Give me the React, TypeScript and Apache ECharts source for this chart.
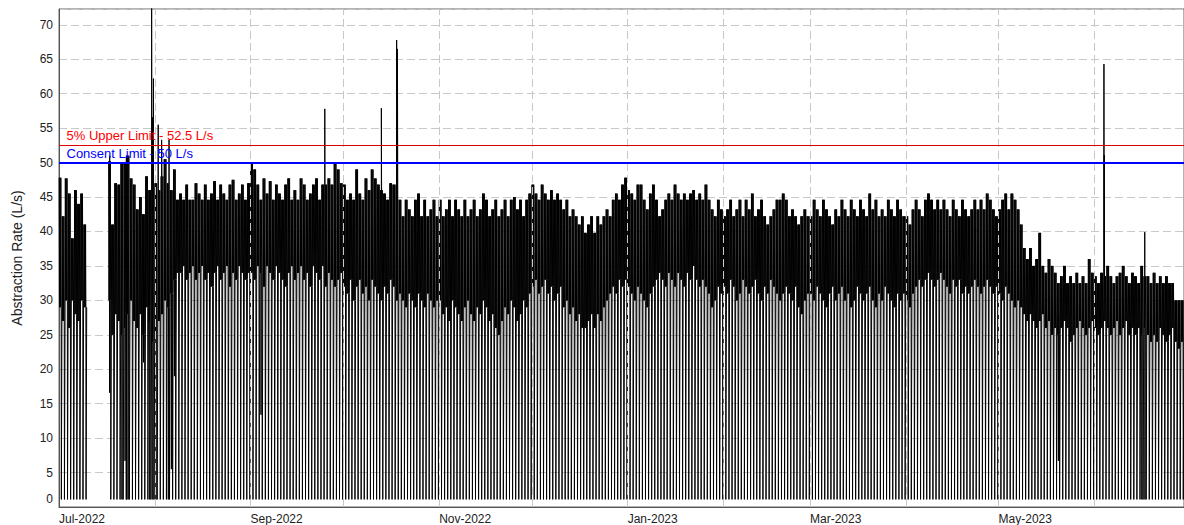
import React, { useEffect, useRef } from 'react';
import * as echarts from 'echarts';

const FONT = '"Liberation Sans", Arial, Helvetica, sans-serif';

// Day index 0 = 1 Jul 2022. Daily peak (hi) and lower edge of the running band (lo), in L/s.
const hiJul = [47.8, 42.2, 47.7, 45.5, 39.0, 46.0, 44.0, 45.5, 41.0, null, null, null, null, null, null, null, 50.2, 41.0, 47.0, 46.8, 50.0, 49.8, 51.0, 47.7, 46.8, 43.2, 45.0, 42.5, 48.0, 46.0, 46.0];
const loJul = [29, 27, 30, 26, 30, 28, 27, 30, 29, null, null, null, null, null, null, null, 30, 25, 28, 27, 25, 26, 28, 30, 27, 26, 28, 25, 29, 27, 24];
const hiAug = [47.0, 46.0, 48.0, 50.5, 47.0, 46.0, 49.0, 44.6, 45.5, 44.6, 46.8, 44.6, 44.6, 47.0, 45.5, 44.6, 46.8, 44.6, 45.5, 47.3, 44.6, 46.8, 45.5, 44.6, 46.8, 47.5, 44.6, 45.5, 46.8, 44.6, 47.0];
const loAug = [25, 27, 28, 30, 29, 31, 33, 34, 34, 35, 33, 34, 35, 33, 34, 35, 33, 34, 32, 34, 35, 33, 34, 35, 32, 34, 33, 35, 34, 33, 34];
const hiSep = [50.0, 49.0, 46.8, 44.6, 47.7, 45.5, 47.3, 44.6, 46.8, 45.5, 44.6, 46.8, 47.7, 44.6, 46.0, 44.6, 47.7, 46.8, 44.6, 45.5, 46.8, 47.7, 44.6, 46.8, 46.8, 47.7, 46.8, 50.0, 49.0, 47.0];
const loSep = [34, 33, 35, 34, 32, 35, 34, 33, 35, 34, 33, 32, 34, 35, 33, 34, 35, 33, 34, 32, 35, 34, 33, 35, 32, 34, 33, 32, 33, 34];
const hiOct = [46.8, 44.6, 45.5, 44.6, 49.0, 45.5, 44.6, 47.7, 46.0, 49.0, 47.7, 46.8, 46.0, 45.5, 44.6, 47.0, 46.8, 46.8, 44.6, 42.2, 44.6, 43.2, 42.2, 44.6, 45.5, 42.2, 44.6, 42.2, 43.2, 44.6, 42.2];
const loOct = [32, 31, 33, 30, 32, 33, 31, 32, 30, 33, 32, 31, 30, 32, 31, 33, 32, 30, 31, 30, 29, 31, 30, 29, 31, 30, 29, 31, 30, 29, 30];
const hiNov = [44.6, 42.2, 43.2, 44.6, 42.2, 44.6, 43.2, 42.2, 44.6, 42.2, 43.2, 44.6, 42.2, 43.2, 45.5, 44.6, 42.2, 43.2, 44.6, 42.2, 43.2, 44.6, 42.2, 44.6, 45.0, 43.2, 44.6, 42.2, 44.6, 45.5];
const loNov = [30, 28, 29, 27, 30, 29, 28, 27, 29, 30, 28, 27, 29, 28, 30, 29, 27, 28, 26, 25, 27, 29, 28, 30, 29, 27, 28, 30, 29, 31];
const hiDec = [46.8, 45.5, 44.6, 46.8, 45.5, 44.6, 46.0, 44.6, 45.5, 44.6, 43.2, 44.6, 42.2, 43.2, 42.2, 41.0, 42.2, 39.8, 41.0, 42.2, 39.8, 42.2, 41.0, 42.2, 43.2, 42.2, 44.6, 45.5, 44.6, 46.8, 47.8];
const loDec = [32, 33, 31, 32, 33, 31, 32, 30, 31, 32, 29, 30, 28, 29, 27, 28, 26, 26, 27, 28, 26, 28, 27, 29, 30, 31, 32, 31, 33, 32, 33];
const hiJan = [46.0, 45.5, 44.6, 46.8, 46.8, 44.6, 43.2, 45.5, 46.8, 44.6, 42.2, 43.2, 44.6, 45.5, 44.6, 46.8, 45.5, 44.6, 45.5, 44.6, 45.5, 46.0, 44.6, 45.5, 44.6, 46.8, 44.6, 43.2, 42.2, 44.6, 43.2];
const loJan = [32, 31, 30, 32, 31, 30, 29, 31, 32, 33, 34, 33, 32, 34, 33, 32, 34, 33, 32, 34, 33, 35, 33, 32, 33, 32, 31, 29, 30, 32, 31];
const hiFeb = [42.2, 43.2, 44.6, 42.2, 43.2, 44.6, 42.2, 44.6, 43.2, 45.5, 42.2, 43.2, 44.6, 42.2, 41.0, 42.2, 43.2, 44.6, 44.6, 45.5, 44.6, 42.2, 43.2, 42.2, 41.0, 42.2, 43.2, 42.2];
const loFeb = [32, 31, 33, 32, 30, 31, 33, 32, 31, 32, 33, 31, 30, 32, 31, 33, 32, 31, 30, 31, 32, 31, 30, 32, 29, 28, 30, 31];
const hiMar = [42.2, 44.6, 43.2, 42.2, 44.6, 43.2, 42.2, 41.0, 43.2, 42.2, 44.6, 43.2, 42.2, 44.6, 43.2, 42.2, 44.6, 43.2, 42.2, 45.5, 43.2, 44.6, 42.2, 43.2, 42.2, 44.6, 43.2, 42.2, 44.6, 43.2, 42.2];
const loMar = [31, 30, 32, 31, 30, 29, 31, 32, 30, 31, 32, 30, 31, 29, 30, 32, 31, 30, 31, 32, 30, 29, 31, 30, 32, 31, 30, 29, 31, 30, 31];
const hiApr = [42.2, 41.0, 43.2, 44.6, 43.2, 42.2, 44.6, 45.5, 44.6, 43.2, 44.6, 43.2, 44.6, 43.2, 42.2, 44.6, 43.2, 42.2, 44.6, 43.2, 42.2, 43.2, 44.6, 43.2, 44.6, 43.2, 45.5, 44.6, 43.2, 42.2];
const loApr = [30, 29, 31, 32, 33, 32, 33, 34, 33, 32, 33, 34, 33, 32, 31, 33, 32, 33, 31, 32, 31, 32, 33, 32, 31, 32, 33, 32, 31, 32];
const hiMay = [43.2, 44.6, 45.5, 43.2, 45.5, 44.6, 43.2, 41.0, 37.6, 36.0, 37.6, 35.0, 36.0, 39.8, 35.0, 34.0, 36.0, 35.0, 34.0, 32.5, 33.5, 35.0, 32.5, 33.5, 32.5, 34.0, 32.5, 33.5, 32.5, 36.0, 34.0];
const loMay = [31, 30, 32, 31, 30, 29, 30, 29, 28, 27, 28, 27, 26, 27, 28, 26, 27, 25, 26, 25, 26, 27, 26, 24, 25, 26, 27, 26, 25, 26, 27];
const hiJun = [33.5, 32.5, 34.0, 33.5, 35.0, 33.5, 32.5, 33.5, 34.0, 35.0, 33.5, 32.5, 34.0, 33.5, 32.5, 35.0, 33.5, 33.5, 32.5, 34.0, 32.5, 33.5, 32.5, 33.5, 32.5, 32.5, 30.0, 30.0, 30.0, 30.0];
const loJun = [26, 25, 26, 27, 26, 25, 26, 27, 25, 26, 27, 25, 26, 25, 26, 25, 26, 25, 24, 25, 24, 26, 25, 24, 25, 26, 24, 23, 24, 23];

// Short single readings above the daily band: [day (fractional), L/s]
const spikes = [[16.4, 51.0], [21.8, 51.0], [29.97, 74.0], [30.3, 56.6], [30.55, 62.2], [32.1, 55.5], [33.2, 53.3], [35.6, 53.3], [86.0, 57.8], [104.3, 57.9], [109.25, 67.8], [109.5, 66.5], [338.1, 64.3], [338.2, 51.1], [351.3, 39.9]];

// Pump-off reading each day, and extra drops [day, value]
const offRate = 1.1;
const extraDips = [[16, 16.6], [20, 1.1], [21, 6.7], [22, 1.1], [27, 21], [29, 1.1], [30, 1.1], [31, 1.1], [35, 1.1], [36, 5.5], [37, 19], [65, 13.4], [323, 6.7], [350, 1.1], [351, 1.1]];

// Axis
const monthStartDays = [31, 62, 92, 123, 153, 184, 215, 243, 274, 304, 335];
const labelDays = [0, 62, 123, 184, 243, 304];
const labelTexts = ['Jul-2022', 'Sep-2022', 'Nov-2022', 'Jan-2023', 'Mar-2023', 'May-2023'];

const consentLimit = 50;
const upperLimit = 52.5;

const hiValues = [...hiJul, ...hiAug, ...hiSep, ...hiOct, ...hiNov, ...hiDec, ...hiJan, ...hiFeb, ...hiMar, ...hiApr, ...hiMay, ...hiJun];
const loValues = [...loJul, ...loAug, ...loSep, ...loOct, ...loNov, ...loDec, ...loJan, ...loFeb, ...loMar, ...loApr, ...loMay, ...loJun];

function buildPoints() {
  const pts: any[] = [];
  for (let d = 0; d < hiValues.length; d++) {
    const hi = hiValues[d];
    const lo = loValues[d];
    if (hi == null || lo == null) {
      pts.push([d + 0.5, '-']);
      continue;
    }
    const dayPts: number[][] = [];
    dayPts.push([d + 0.05, hi], [d + 0.18, lo], [d + 0.3, hi]);
    extraDips.filter((e) => e[0] === d).forEach((e) => {
      dayPts.push([d + 0.36, e[1]], [d + 0.4, e[1]], [d + 0.44, lo]);
    });
    dayPts.push([d + 0.48, lo], [d + 0.6, hi], [d + 0.7, lo], [d + 0.76, offRate], [d + 0.9, offRate], [d + 0.96, lo]);
    spikes.filter((s) => Math.floor(s[0]) === d).forEach((s) => dayPts.push([s[0], s[1]]));
    dayPts.sort((a, b) => a[0] - b[0]);
    dayPts.forEach((p) => pts.push(p));
  }
  return pts;
}

export default function App() {
  const ref = useRef<HTMLDivElement>(null);
  useEffect(() => {
    document.body.style.margin = '0';
    const chart = echarts.init(ref.current!, null, { renderer: 'svg' });
    const option: any = {
      animation: false,
      grid: { left: 59, right: 0, top: 9, bottom: 17, show: true, borderColor: '#666', borderWidth: 1 },
      xAxis: {
        type: 'value',
        min: 0,
        max: 364,
        axisLine: { show: true, lineStyle: { color: '#555', width: 1 } },
        axisTick: { show: false },
        splitLine: { show: false },
        axisLabel: {
          customValues: labelDays,
          formatter: (v: number) => {
            const i = labelDays.indexOf(Math.round(v));
            return i >= 0 ? labelTexts[i] : '';
          },
          align: 'left',
          color: '#222',
          fontSize: 12,
          fontFamily: FONT,
          margin: 6,
        },
      },
      yAxis: {
        type: 'value',
        min: 0,
        max: 72.3,
        interval: 5,
        name: 'Abstraction Rate (L/s)',
        nameLocation: 'middle',
        nameGap: 35,
        nameTextStyle: { color: '#222', fontSize: 14, fontFamily: FONT },
        axisLine: { show: true, lineStyle: { color: '#555', width: 1 } },
        axisTick: { show: false },
        splitLine: { show: true, lineStyle: { color: '#c8c8c8', type: [8, 4], width: 1 } },
        axisLabel: {
          showMaxLabel: false,
          color: '#222',
          fontSize: 12,
          fontFamily: FONT,
          margin: 6,
          formatter: (v: number) => (v === 0 ? '{z|0}' : v > 71 ? '' : String(v)),
          rich: { z: { color: '#222', fontSize: 12, fontFamily: FONT, padding: [0, 0, 16, 0] } },
        },
      },
      series: [
        {
          type: 'line',
          data: [],
          z: 1,
          silent: true,
          markLine: {
            symbol: 'none',
            silent: true,
            animation: false,
            label: { show: false },
            lineStyle: { color: '#c8c8c8', type: [8, 4], width: 1 },
            data: monthStartDays.map((d) => ({ xAxis: d })),
          },
        },
        {
          type: 'line',
          data: buildPoints(),
          z: 3,
          silent: true,
          symbol: 'none',
          showSymbol: false,
          connectNulls: false,
          clip: true,
          lineStyle: { color: '#000', width: 1 },
        },
        {
          type: 'line',
          data: [],
          z: 5,
          silent: true,
          markLine: {
            symbol: 'none',
            silent: true,
            animation: false,
            label: { position: 'insideStartTop', fontSize: 13, fontFamily: FONT, distance: [7.5, 3] },
            data: [
              {
                yAxis: upperLimit,
                lineStyle: { color: '#e00000', width: 1, type: 'solid' },
                label: { formatter: '5% Upper Limit - 52.5 L/s', color: '#ff0000' },
              },
              {
                yAxis: consentLimit,
                lineStyle: { color: '#0000ff', width: 2, type: 'solid' },
                label: { formatter: 'Consent Limit - 50 L/s', color: '#0000ff' },
              },
            ],
          },
        },
      ],
    };
    chart.setOption(option);
    return () => chart.dispose();
  }, []);
  return <div ref={ref} style={{ width: 1184, height: 525, position: 'absolute', left: 0, top: 0 }} />;
}
